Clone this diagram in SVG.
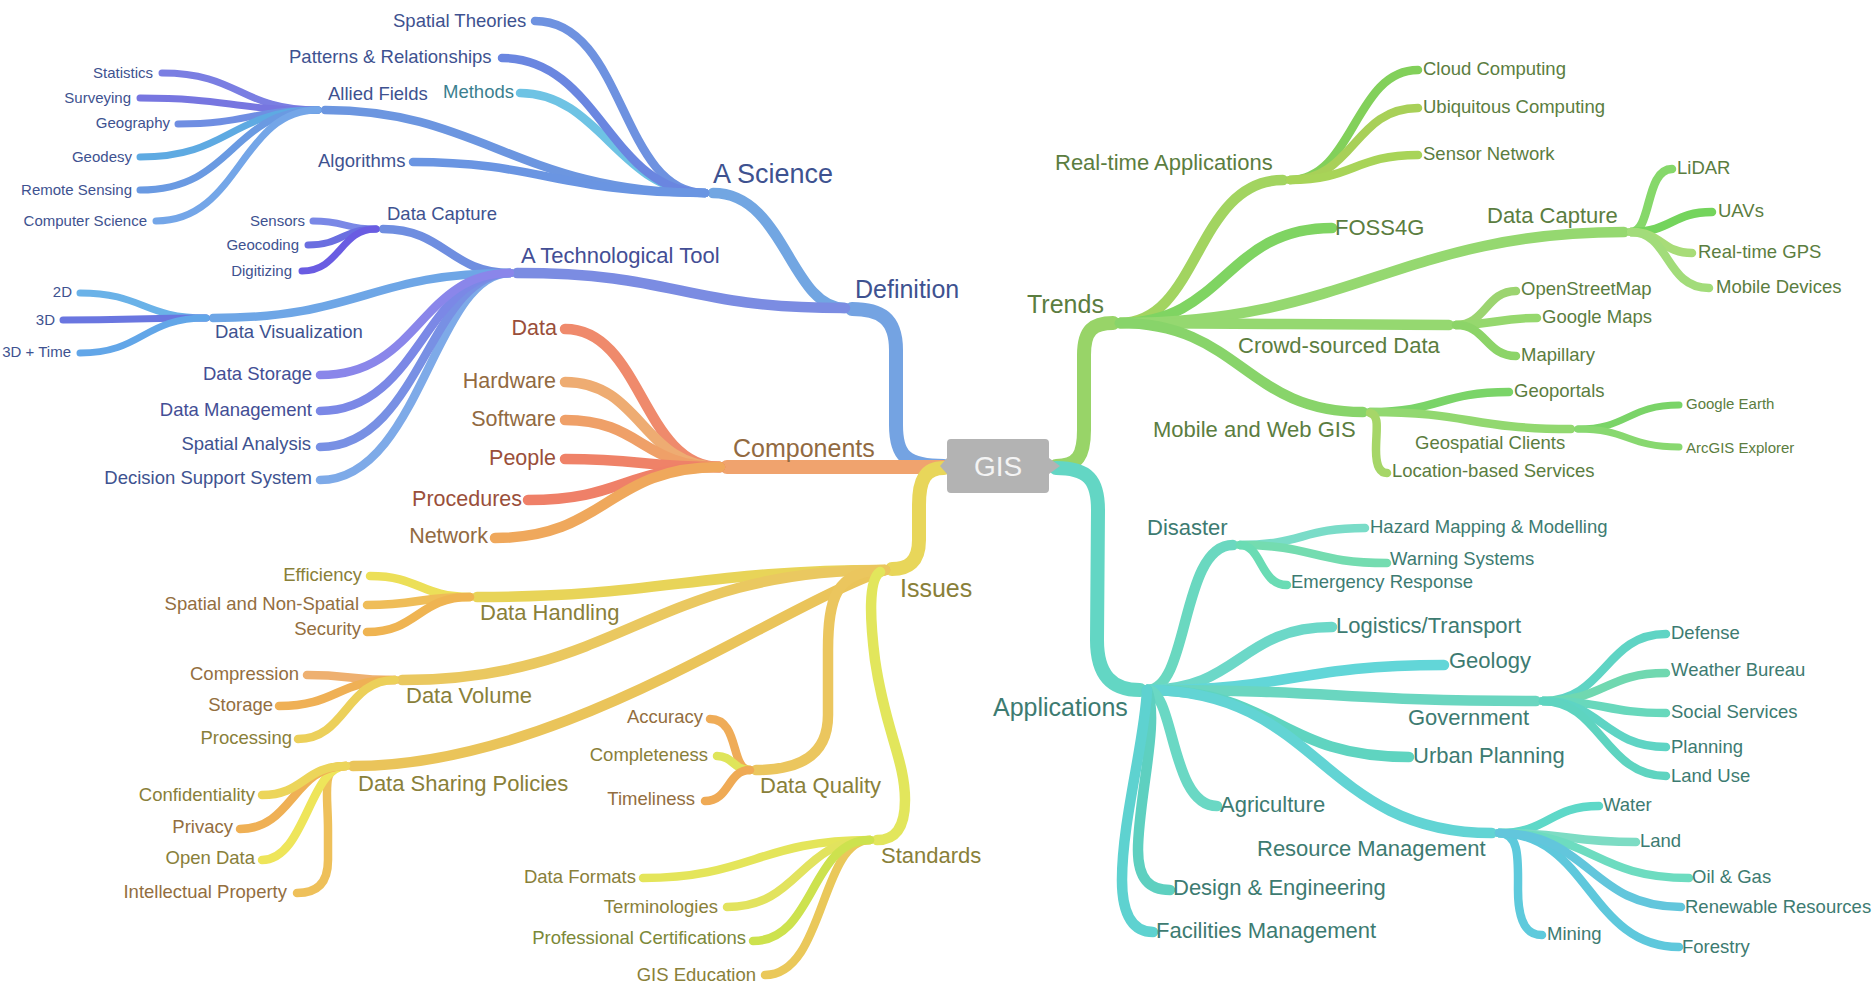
<svg xmlns="http://www.w3.org/2000/svg" width="1874" height="988" viewBox="0 0 1874 988">
<style>
.ln path{fill:none;stroke-linecap:round;stroke-linejoin:round}
.w1{stroke-width:14}.w2{stroke-width:10.5}.w3{stroke-width:8.5}.w4{stroke-width:7}
text{font-family:"Liberation Sans",Arial,sans-serif}
.t0{font-size:28px;fill:#f4f4f4;text-anchor:middle}
.t1{font-size:25px}.tA{font-size:27px}.t2{font-size:22px}.t2b{font-size:21.5px}.t3{font-size:18.5px}.t4{font-size:15px}
.e{text-anchor:end}
.cb{fill:#3e5290}.cp{fill:#434e95}.cm{fill:#3b7f8f}.cr{fill:#9a4f3a}.co{fill:#926a41}.cy{fill:#898039}.cbr{fill:#936e40}.cg{fill:#5b7d40}.ct{fill:#3d7b71}.cyg{fill:#7b8838}
</style>
<rect width="1874" height="988" fill="#ffffff"/>
<g id="connectors" class="ln">
<!-- root to level 1 -->
<path class="w1" stroke="#74a3e2" d="M944,466 C905,466 896,455 896,425 L896,350 C896,318 880,309 852,309"/>
<path class="w1" stroke="#f0a36e" d="M944,467 L727,467"/>
<path class="w1" stroke="#e8d65a" d="M944,468 C925,468 919,480 919,505 L919,540 C919,562 908,569 892,569"/>
<path class="w1" stroke="#98d468" d="M1056,466 C1078,466 1084,455 1084,430 L1084,355 C1084,330 1093,323 1113,323"/>
<path class="w1" stroke="#63d6c4" d="M1056,468 C1088,468 1098,480 1098,510 L1097,640 C1097,675 1112,690 1140,690"/>
<!-- Definition -->
<path class="w2" stroke="#72a6e2" d="M845,308 C790,308 785,193 713,193"/>
<path class="w2" stroke="#7b8ce2" d="M845,308 C680,308 680,273 517,273"/>
<!-- A Science -->
<path class="w3" stroke="#6ec3e4" d="M705,193 C620,193 600,93 520,93"/>
<path class="w3" stroke="#6e92e0" d="M705,193 C620,193 625,21 535,21"/>
<path class="w3" stroke="#6a86e0" d="M705,193 C610,193 600,58 502,58"/>
<path class="w3" stroke="#6c96e0" d="M705,193 C520,193 480,110 325,110"/>
<path class="w3" stroke="#6a95e2" d="M705,193 C560,193 540,162 413,162"/>
<!-- Allied Fields -->
<path class="w4" stroke="#7a7ee2" d="M318,110 C240,110 240,73 162,73"/>
<path class="w4" stroke="#7776e0" d="M318,110 C230,110 230,98 140,98"/>
<path class="w4" stroke="#6f8ee2" d="M318,110 C250,110 248,124 178,124"/>
<path class="w4" stroke="#5eaae2" d="M318,110 C230,110 230,157 140,157"/>
<path class="w4" stroke="#6a9ae2" d="M318,110 C230,110 235,190 140,190"/>
<path class="w4" stroke="#74a6e8" d="M318,110 C240,110 240,221 156,221"/>
<!-- A Technological Tool -->
<path class="w3" stroke="#6f8ee0" d="M510,273 C450,273 445,229 383,229"/>
<path class="w3" stroke="#6ea6e6" d="M510,273 C370,273 360,318 213,318"/>
<path class="w3" stroke="#7eaae8" d="M510,273 C435,273 420,480 320,480"/>
<path class="w3" stroke="#7890e4" d="M510,273 C430,273 420,447 320,447"/>
<path class="w3" stroke="#7b88e6" d="M510,273 C425,273 420,411 320,411"/>
<path class="w3" stroke="#8a86ea" d="M510,273 C420,273 420,375 320,375"/>
<!-- Data Capture (left) -->
<path class="w4" stroke="#7a88e6" d="M376,229 C345,229 345,221 313,221"/>
<path class="w4" stroke="#6a6ee0" d="M376,229 C342,229 342,245 308,245"/>
<path class="w4" stroke="#6a5ce2" d="M376,229 C340,229 340,271 302,271"/>
<!-- Data Visualization -->
<path class="w4" stroke="#6ab2e8" d="M206,318 C143,318 143,293 80,293"/>
<path class="w4" stroke="#6a76e0" d="M206,318 C135,318 135,320 63,320"/>
<path class="w4" stroke="#62a6e8" d="M206,318 C143,318 143,353 80,353"/>
<!-- Components -->
<path class="w2" stroke="#ef8a6c" d="M720,467 C642,467 642,329 565,329"/>
<path class="w2" stroke="#eeac72" d="M720,467 C642,467 642,382 565,382"/>
<path class="w2" stroke="#efa068" d="M720,467 C642,467 642,420 565,420"/>
<path class="w2" stroke="#ef8268" d="M720,467 C642,467 642,459 565,459"/>
<path class="w2" stroke="#ef8068" d="M720,467 C624,467 624,500 528,500"/>
<path class="w2" stroke="#efa85c" d="M720,467 C607,467 607,538 495,538"/>
<!-- Issues -->
<path class="w2" stroke="#e8d458" d="M885,570 C700,570 660,597 477,597"/>
<path class="w2" stroke="#eac860" d="M885,570 C650,570 620,680 402,680"/>
<path class="w2" stroke="#eac45a" d="M885,570 C770,610 560,766 353,766"/>
<path class="w2" stroke="#ebc65e" d="M885,570 C835,570 828,600 828,650 L828,715 C828,755 800,770 756,770"/>
<path class="w2" stroke="#e2e65c" d="M880,572 C868,580 870,620 875,660 C885,730 905,760 905,800 C905,828 895,840 877,840"/>
<!-- Data Handling -->
<path class="w3" stroke="#ecdf58" d="M470,597 C420,597 420,576 370,576"/>
<path class="w3" stroke="#efbd58" d="M470,597 C418,597 418,605 367,605"/>
<path class="w3" stroke="#efb452" d="M470,597 C418,597 418,632 367,632"/>
<!-- Data Volume -->
<path class="w3" stroke="#eeb070" d="M395,680 C350,680 350,675 307,675"/>
<path class="w3" stroke="#efb055" d="M395,680 C337,680 337,706 279,706"/>
<path class="w3" stroke="#ecd05a" d="M395,680 C346,680 346,739 298,739"/>
<!-- Data Sharing Policies -->
<path class="w3" stroke="#eec05a" d="M346,766 C320,766 328,790 328,830 L328,860 C328,885 315,893 297,893"/>
<path class="w3" stroke="#eee55a" d="M346,766 C310,766 305,860 262,860"/>
<path class="w3" stroke="#efb055" d="M346,766 C293,766 293,829 240,829"/>
<path class="w3" stroke="#ecd55a" d="M346,766 C304,766 304,795 262,795"/>
<!-- Data Quality -->
<path class="w3" stroke="#efac58" d="M750,770 C730,770 740,719 710,719"/>
<path class="w3" stroke="#dfe55a" d="M750,770 C733,770 733,756 717,756"/>
<path class="w3" stroke="#efaa55" d="M750,770 C727,770 730,801 705,801"/>
<!-- Standards -->
<path class="w3" stroke="#e4e55a" d="M870,840 C760,840 750,878 643,878"/>
<path class="w3" stroke="#e2e35e" d="M870,840 C800,840 800,907 727,907"/>
<path class="w3" stroke="#eac85a" d="M870,840 C820,840 825,975 765,975"/>
<path class="w3" stroke="#cde24e" d="M870,840 C810,840 815,941 753,941"/>
<!-- Trends -->
<path class="w2" stroke="#a2d460" d="M1120,323 C1200,323 1195,180 1283,180"/>
<path class="w2" stroke="#7fd462" d="M1120,323 C1225,323 1225,228 1332,228"/>
<path class="w2" stroke="#95d870" d="M1120,323 C1350,323 1400,232 1624,232"/>
<path class="w2" stroke="#95d870" d="M1120,323 C1280,323 1290,325 1449,325"/>
<path class="w2" stroke="#88d46a" d="M1120,323 C1240,323 1245,412 1363,412"/>
<!-- Real-time Applications -->
<path class="w3" stroke="#82d05a" d="M1290,180 C1354,180 1354,70 1418,70"/>
<path class="w3" stroke="#a8d058" d="M1290,180 C1354,180 1354,108 1418,108"/>
<path class="w3" stroke="#a8d458" d="M1290,180 C1354,180 1354,155 1418,155"/>
<!-- Data Capture (right) -->
<path class="w3" stroke="#86d86a" d="M1631,232 C1652,232 1645,169 1672,169"/>
<path class="w3" stroke="#74d45c" d="M1631,232 C1672,232 1672,212 1712,212"/>
<path class="w3" stroke="#a8dc78" d="M1631,232 C1662,232 1662,253 1692,253"/>
<path class="w3" stroke="#a2dc7a" d="M1631,232 C1670,232 1665,288 1709,288"/>
<!-- Crowd-sourced Data -->
<path class="w3" stroke="#9cd470" d="M1456,325 C1486,325 1486,291 1516,291"/>
<path class="w3" stroke="#96d86e" d="M1456,325 C1496,325 1496,318 1537,318"/>
<path class="w3" stroke="#8cd468" d="M1456,325 C1486,325 1486,356 1516,356"/>
<!-- Mobile and Web GIS -->
<path class="w3" stroke="#7ad468" d="M1370,412 C1440,412 1440,392 1509,392"/>
<path class="w3" stroke="#92d870" d="M1370,412 C1470,412 1470,429 1571,429"/>
<path class="w3" stroke="#a6d668" d="M1370,413 C1380,415 1376,430 1376,450 C1376,466 1380,473 1387,473"/>
<!-- Geospatial Clients -->
<path class="w4" stroke="#7ad468" d="M1578,429 C1628,429 1628,405 1679,405"/>
<path class="w4" stroke="#88d870" d="M1578,429 C1628,429 1628,447 1679,447"/>
<!-- Applications -->
<path class="w2" stroke="#6ad8c0" d="M1147,690 C1190,690 1180,545 1233,545"/>
<path class="w2" stroke="#6cd8c8" d="M1147,690 C1240,690 1240,627 1332,627"/>
<path class="w2" stroke="#62d6d8" d="M1147,690 C1295,690 1295,665 1444,665"/>
<path class="w2" stroke="#6ad6c0" d="M1147,690 C1340,690 1340,701 1536,701"/>
<path class="w2" stroke="#5fd4c0" d="M1147,690 C1278,690 1278,757 1409,757"/>
<path class="w2" stroke="#62d4d4" d="M1147,690 C1320,690 1320,833 1492,833"/>
<path class="w2" stroke="#6ad8c4" d="M1147,690 C1175,690 1170,806 1217,806"/>
<path class="w2" stroke="#5ed0c0" d="M1147,690 C1160,720 1138,800 1138,850 C1138,880 1150,890 1170,890"/>
<path class="w2" stroke="#5ed2d0" d="M1147,690 C1145,740 1122,820 1122,880 C1122,918 1135,932 1153,932"/>
<!-- Disaster -->
<path class="w3" stroke="#7adcc8" d="M1240,545 C1302,545 1302,528 1365,528"/>
<path class="w3" stroke="#74dcb0" d="M1240,545 C1313,545 1313,563 1387,563"/>
<path class="w3" stroke="#6adcb4" d="M1240,545 C1262,545 1260,585 1287,585"/>
<!-- Government -->
<path class="w3" stroke="#5fd4c4" d="M1543,701 C1605,701 1605,634 1666,634"/>
<path class="w3" stroke="#70d8b0" d="M1543,701 C1605,701 1605,673 1666,673"/>
<path class="w3" stroke="#68d8bc" d="M1543,701 C1605,701 1605,713 1666,713"/>
<path class="w3" stroke="#5ed4c4" d="M1543,701 C1600,701 1605,747 1666,747"/>
<path class="w3" stroke="#5ed4c0" d="M1543,701 C1600,701 1605,776 1666,776"/>
<!-- Resource Management -->
<path class="w3" stroke="#5ed8c8" d="M1499,833 C1549,833 1549,806 1599,806"/>
<path class="w3" stroke="#7ddcc4" d="M1499,833 C1568,833 1568,842 1636,842"/>
<path class="w3" stroke="#6ddcc0" d="M1499,833 C1594,833 1594,878 1689,878"/>
<path class="w3" stroke="#5ecadc" d="M1499,833 C1520,833 1518,860 1518,890 C1518,925 1528,935 1542,935"/>
<path class="w3" stroke="#5ec8dc" d="M1499,833 C1589,833 1589,947 1679,947"/>
<path class="w3" stroke="#62c6dc" d="M1499,833 C1590,833 1590,907 1681,907"/>
</g>

<g id="n-gis">
<path fill="#b3b3b3" d="M947,443 Q947,439 951,439 L1045,439 Q1049,439 1049,443 L1049,458 L1060,466 L1049,474 L1049,489 Q1049,493 1045,493 L951,493 Q947,493 947,489 L947,474 L940,466 L947,458 Z"/>
<text class="t0" x="998" y="476">GIS</text>
</g>

<g id="n-definition"><text class="t1 cb" x="855" y="298">Definition</text></g>
<g id="n-ascience"><text class="tA cb" x="713" y="183">A Science</text></g>
<g id="n-spatialtheories"><text class="t3 cb" x="393" y="27">Spatial Theories</text></g>
<g id="n-patterns"><text class="t3 cb" x="289" y="63">Patterns &amp; Relationships</text></g>
<g id="n-methods"><text class="t3 cm" x="443" y="98">Methods</text></g>
<g id="n-alliedfields"><text class="t3 cb" x="328" y="100">Allied Fields</text></g>
<g id="n-algorithms"><text class="t3 cb" x="318" y="167">Algorithms</text></g>
<g id="n-statistics"><text class="t4 cb e" x="153" y="78">Statistics</text></g>
<g id="n-surveying"><text class="t4 cb e" x="131" y="103">Surveying</text></g>
<g id="n-geography"><text class="t4 cb e" x="170" y="128">Geography</text></g>
<g id="n-geodesy"><text class="t4 cb e" x="132" y="162">Geodesy</text></g>
<g id="n-remotesensing"><text class="t4 cb e" x="132" y="195">Remote Sensing</text></g>
<g id="n-computerscience"><text class="t4 cb e" x="147" y="226">Computer Science</text></g>
<g id="n-techtool"><text class="t2 cp" x="521" y="263">A Technological Tool</text></g>
<g id="n-datacapture-l"><text class="t3 cb" x="387" y="220">Data Capture</text></g>
<g id="n-sensors"><text class="t4 cb e" x="305" y="226">Sensors</text></g>
<g id="n-geocoding"><text class="t4 cb e" x="299" y="250">Geocoding</text></g>
<g id="n-digitizing"><text class="t4 cb e" x="292" y="276">Digitizing</text></g>
<g id="n-datavis"><text class="t3 cb" x="215" y="338">Data Visualization</text></g>
<g id="n-2d"><text class="t4 cb e" x="72" y="297">2D</text></g>
<g id="n-3d"><text class="t4 cb e" x="55" y="325">3D</text></g>
<g id="n-3dtime"><text class="t4 cb e" x="71" y="357">3D + Time</text></g>
<g id="n-datastorage"><text class="t3 cp e" x="312" y="380">Data Storage</text></g>
<g id="n-datamgmt"><text class="t3 cp e" x="312" y="416">Data Management</text></g>
<g id="n-spatialanalysis"><text class="t3 cb e" x="311" y="450">Spatial Analysis</text></g>
<g id="n-dss"><text class="t3 cb e" x="312" y="484">Decision Support System</text></g>

<g id="n-components"><text class="t1 co" x="733" y="457">Components</text></g>
<g id="n-data"><text class="t2b cr e" x="557" y="335">Data</text></g>
<g id="n-hardware"><text class="t2b co e" x="556" y="388">Hardware</text></g>
<g id="n-software"><text class="t2b co e" x="556" y="426">Software</text></g>
<g id="n-people"><text class="t2b cr e" x="556" y="465">People</text></g>
<g id="n-procedures"><text class="t2b cr e" x="522" y="506">Procedures</text></g>
<g id="n-network"><text class="t2b co e" x="488" y="543">Network</text></g>

<g id="n-issues"><text class="t1 cy" x="900" y="597">Issues</text></g>
<g id="n-datahandling"><text class="t2 cy" x="480" y="620">Data Handling</text></g>
<g id="n-efficiency"><text class="t3 cy e" x="362" y="581">Efficiency</text></g>
<g id="n-spatialnon"><text class="t3 cbr e" x="359" y="610">Spatial and Non-Spatial</text></g>
<g id="n-security"><text class="t3 cbr e" x="361" y="635">Security</text></g>
<g id="n-datavolume"><text class="t2 cy" x="406" y="703">Data Volume</text></g>
<g id="n-compression"><text class="t3 cbr e" x="299" y="680">Compression</text></g>
<g id="n-storage"><text class="t3 cbr e" x="273" y="711">Storage</text></g>
<g id="n-processing"><text class="t3 cy e" x="292" y="744">Processing</text></g>
<g id="n-datasharing"><text class="t2 cy" x="358" y="791">Data Sharing Policies</text></g>
<g id="n-confidentiality"><text class="t3 cy e" x="255" y="801">Confidentiality</text></g>
<g id="n-privacy"><text class="t3 cbr e" x="233" y="833">Privacy</text></g>
<g id="n-opendata"><text class="t3 cy e" x="255" y="864">Open Data</text></g>
<g id="n-ip"><text class="t3 cbr e" x="287" y="898">Intellectual Property</text></g>
<g id="n-dataquality"><text class="t2 cy" x="760" y="793">Data Quality</text></g>
<g id="n-accuracy"><text class="t3 cbr e" x="703" y="723">Accuracy</text></g>
<g id="n-completeness"><text class="t3 cy e" x="708" y="761">Completeness</text></g>
<g id="n-timeliness"><text class="t3 cbr e" x="695" y="805">Timeliness</text></g>
<g id="n-standards"><text class="t2 cy" x="881" y="863">Standards</text></g>
<g id="n-dataformats"><text class="t3 cy e" x="636" y="883">Data Formats</text></g>
<g id="n-terminologies"><text class="t3 cy e" x="718" y="913">Terminologies</text></g>
<g id="n-profcert"><text class="t3 cyg e" x="746" y="944">Professional Certifications</text></g>
<g id="n-gisedu"><text class="t3 cy e" x="756" y="981">GIS Education</text></g>

<g id="n-trends"><text class="t1 cg" x="1027" y="313">Trends</text></g>
<g id="n-realtime"><text class="t2 cg" x="1055" y="170">Real-time Applications</text></g>
<g id="n-cloud"><text class="t3 cg" x="1423" y="75">Cloud Computing</text></g>
<g id="n-ubiquitous"><text class="t3 cg" x="1423" y="113">Ubiquitous Computing</text></g>
<g id="n-sensornet"><text class="t3 cg" x="1423" y="160">Sensor Network</text></g>
<g id="n-foss4g"><text class="t2 cg" x="1335" y="235">FOSS4G</text></g>
<g id="n-datacapture-r"><text class="t2 cg" x="1487" y="223">Data Capture</text></g>
<g id="n-lidar"><text class="t3 cg" x="1677" y="174">LiDAR</text></g>
<g id="n-uavs"><text class="t3 cg" x="1718" y="217">UAVs</text></g>
<g id="n-rtgps"><text class="t3 cg" x="1698" y="258">Real-time GPS</text></g>
<g id="n-mobiledev"><text class="t3 cg" x="1716" y="293">Mobile Devices</text></g>
<g id="n-crowd"><text class="t2 cg" x="1238" y="353">Crowd-sourced Data</text></g>
<g id="n-osm"><text class="t3 cg" x="1521" y="295">OpenStreetMap</text></g>
<g id="n-googlemaps"><text class="t3 cg" x="1542" y="323">Google Maps</text></g>
<g id="n-mapillary"><text class="t3 cg" x="1521" y="361">Mapillary</text></g>
<g id="n-mobileweb"><text class="t2 cg" x="1153" y="437">Mobile and Web GIS</text></g>
<g id="n-geoportals"><text class="t3 cg" x="1514" y="397">Geoportals</text></g>
<g id="n-geoclients"><text class="t3 cg" x="1415" y="449">Geospatial Clients</text></g>
<g id="n-googleearth"><text class="t4 cg" x="1686" y="409">Google Earth</text></g>
<g id="n-arcgis"><text class="t4 cg" x="1686" y="453">ArcGIS Explorer</text></g>
<g id="n-lbs"><text class="t3 cg" x="1392" y="477">Location-based Services</text></g>

<g id="n-applications"><text class="t1 ct" x="993" y="716">Applications</text></g>
<g id="n-disaster"><text class="t2 ct" x="1147" y="535">Disaster</text></g>
<g id="n-hazard"><text class="t3 ct" x="1370" y="533">Hazard Mapping &amp; Modelling</text></g>
<g id="n-warning"><text class="t3 ct" x="1390" y="565">Warning Systems</text></g>
<g id="n-emergency"><text class="t3 ct" x="1291" y="588">Emergency Response</text></g>
<g id="n-logistics"><text class="t2 ct" x="1336" y="633">Logistics/Transport</text></g>
<g id="n-geology"><text class="t2 ct" x="1449" y="668">Geology</text></g>
<g id="n-government"><text class="t2 ct" x="1408" y="725">Government</text></g>
<g id="n-defense"><text class="t3 ct" x="1671" y="639">Defense</text></g>
<g id="n-weather"><text class="t3 ct" x="1671" y="676">Weather Bureau</text></g>
<g id="n-social"><text class="t3 ct" x="1671" y="718">Social Services</text></g>
<g id="n-planning"><text class="t3 ct" x="1671" y="753">Planning</text></g>
<g id="n-landuse"><text class="t3 ct" x="1671" y="782">Land Use</text></g>
<g id="n-urban"><text class="t2 ct" x="1413" y="763">Urban Planning</text></g>
<g id="n-agriculture"><text class="t2 ct" x="1220" y="812">Agriculture</text></g>
<g id="n-resource"><text class="t2 ct" x="1257" y="856">Resource Management</text></g>
<g id="n-water"><text class="t3 ct" x="1603" y="811">Water</text></g>
<g id="n-land"><text class="t3 ct" x="1640" y="847">Land</text></g>
<g id="n-oilgas"><text class="t3 ct" x="1692" y="883">Oil &amp; Gas</text></g>
<g id="n-renewable"><text class="t3 ct" x="1685" y="913">Renewable Resources</text></g>
<g id="n-forestry"><text class="t3 ct" x="1682" y="953">Forestry</text></g>
<g id="n-mining"><text class="t3 ct" x="1547" y="940">Mining</text></g>
<g id="n-design"><text class="t2 ct" x="1173" y="895">Design &amp; Engineering</text></g>
<g id="n-facilities"><text class="t2 ct" x="1156" y="938">Facilities Management</text></g>
</svg>
